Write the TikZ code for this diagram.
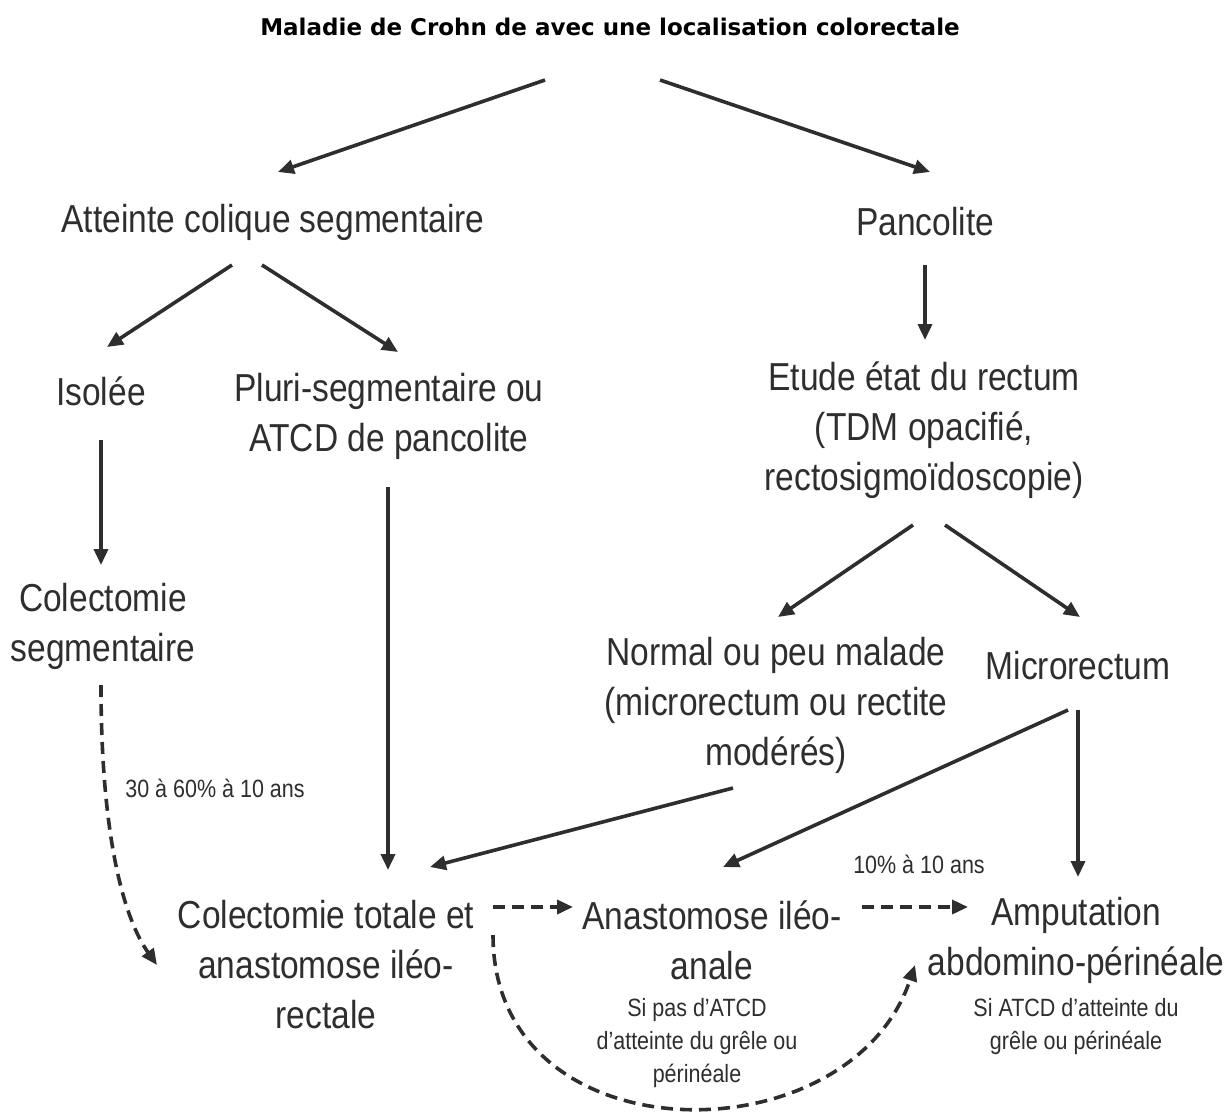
\documentclass[tikz,border=0pt]{standalone}
\usepackage{fontspec}
\setmainfont{Liberation Sans}[FakeStretch=0.86]
\newfontfamily\titlefont{DejaVu Sans}
\usetikzlibrary{arrows.meta,calc}
\definecolor{ink}{HTML}{2E2E2E}
\tikzset{
  big/.style={text=ink,align=center,inner sep=0pt,font=\fontsize{39}{50}\selectfont},
  small/.style={text=ink,align=center,inner sep=0pt,font=\fontsize{25}{33}\selectfont},
  arr/.style={draw=ink,line width=3.6pt,-{Triangle[length=16pt,width=14pt]}},
  darr/.style={arr,dash pattern=on 12pt off 7pt}
}
\begin{document}
\begin{tikzpicture}[x=1pt,y=-1pt]
\useasboundingbox (0,0) rectangle (1226,1117);
\node[inner sep=0pt,font=\titlefont\bfseries\fontsize{23}{28}\selectfont] (title) at (610,27) {Maladie de Crohn de avec une localisation colorectale};
\node[big] (acs) at (273,222) {Atteinte colique segmentaire};
\node[big] (pan) at (925,222) {Pancolite};
\node[big] (iso) at (101,391) {Isolée};
\node[big] (plu) at (389,416) {Pluri-segmentaire ou\\ATCD de pancolite};
\node[big] (etu) at (924,430) {Etude état du rectum\\(TDM opacifié,\\rectosigmoïdoscopie)};
\node[big] (cseg) at (103,626) {Colectomie\\segmentaire};
\node[big] (nor) at (776,705) {Normal ou peu malade\\(microrectum ou rectite\\modérés)};
\node[big] (mic) at (1078,666) {Microrectum};
\node[big] (ctot) at (326,965) {Colectomie totale et\\anastomose iléo-\\rectale};
\node[big] (ana) at (712,940) {Anastomose iléo-\\anale};
\node[big] (amp) at (1076,940) {Amputation\\abdomino-périnéale};
\node[small] (anasub) at (697,1043) {Si pas d’ATCD\\d’atteinte du grêle ou\\périnéale};
\node[small] (ampsub) at (1076,1027) {Si ATCD d’atteinte du\\grêle ou périnéale};
\node[small] (lab1) at (215,788) {30 à 60\% à 10 ans};
\node[small] (lab2) at (919,864) {10\% à 10 ans};

\draw[arr] ($(title)+(-65,53)$) -- ($(acs)+(5,-50)$);
\draw[arr] ($(title)+(50,53)$) -- ($(pan)+(5,-50)$);
\draw[arr] ($(acs)+(-41,43)$) -- ($(iso)+(6,-44)$);
\draw[arr] ($(acs)+(-11,43)$) -- ($(plu)+(9,-64)$);
\draw[arr] ($(pan)+(0,43)$) -- ($(etu)+(1,-90)$);
\draw[arr] ($(iso)+(0,49)$) -- ($(cseg)+(-2,-61)$);
\draw[arr] ($(plu)+(-1,71)$) -- ($(ctot)+(62,-95)$);
\draw[arr] ($(etu)+(-11,95)$) -- ($(nor)+(2,-88)$);
\draw[arr] ($(etu)+(21,95)$) -- ($(mic)+(2,-49)$);
\draw[arr] ($(nor)+(-43,83)$) -- ($(ctot)+(104,-98)$);
\draw[arr] ($(mic)+(-10,44)$) -- ($(ana)+(11,-73)$);
\draw[arr] ($(mic)+(0,44)$) -- ($(amp)+(2,-63)$);

\draw[darr] ($(cseg)+(-2,59)$) .. controls ($(cseg)+(-2,215)$) and ($(ctot)+(-201,-45)$) .. ($(ctot)+(-169,0)$);
\draw[darr] ($(ctot)+(167,-58)$) -- ($(ana)+(-139,-33)$);
\draw[darr] ($(ana)+(150,-33)$) -- ($(amp)+(-108,-33)$);
\draw[darr] ($(ctot)+(167,-30)$) .. controls ($(ctot)+(167,195)$) and ($(amp)+(-226,220)$) .. ($(amp)+(-161,25)$);
\end{tikzpicture}
\end{document}
